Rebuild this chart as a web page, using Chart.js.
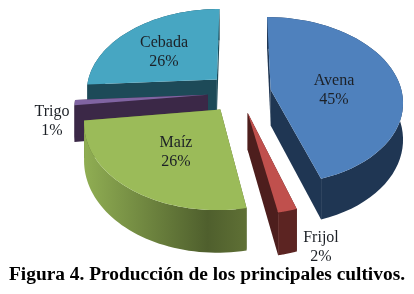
<!DOCTYPE html>
<html>
<head>
<meta charset="utf-8">
<script src="https://cdn.jsdelivr.net/npm/chart.js@4"></script>
<style>
  body { margin: 0; background: #fff; }
  canvas { display: block; }
</style>
</head>
<body>
<canvas id="grafico" width="414" height="294"></canvas>
<script>
// Datos
const cultivos = ["Avena", "Frijol", "Maíz", "Trigo", "Cebada"];
const porcentajes = [45, 2, 26, 1, 26];
const titulo = "Figura 4. Producción de los principales cultivos.";

const colores = ["#4f81bd", "#c0504d", "#9bbb59", "#8064a2", "#47a6c2"];
// tonos de la pared exterior: izquierda, centro, derecha
const paredes = [
    ["#1f3653", "#1f3653", "#1f3653"],
    ["#5c2422", "#5c2422", "#5c2422"],
    ["#90ae53", "#4f5f2d", "#5f7035"],
    ["#3b2847", "#3b2847", "#3b2847"],
    ["#1d4a58", "#1d4a58", "#1d4a58"]
];
const caras = ["#1f3653", "#4d1e1d", "#56662f", "#3b2847", "#1d4a58"];

// Vista 3D del plano de la torta
const corrimiento = 32.5;
const estiramiento = 1.585;
const perspectiva = 0.13;
const grosor = 36;

// Posicion de cada etiqueta en pantalla
const posEtiquetas = [[334, 90], [321, 247], [176, 152], [52, 121], [164, 52]];

function proyectar(el, x, y, h) {
    const s = 1 / (1 - perspectiva * y / el.outerRadius);
    return [el.x + corrimiento + estiramiento * x * s, el.y + (y + h) * s];
}

function trazar(ctx, puntos, relleno) {
    ctx.beginPath();
    puntos.forEach((p, i) => i ? ctx.lineTo(p[0], p[1]) : ctx.moveTo(p[0], p[1]));
    ctx.closePath();
    ctx.fillStyle = relleno;
    ctx.fill();
}

const torta3d = {
    id: "torta3d",
    beforeDatasetDraw(chart) {
        const ctx = chart.ctx;
        const arcos = chart.getDatasetMeta(0).data;

        // De atras hacia adelante
        const orden = arcos.map((a, i) => i).sort((i, j) => {
            const mitad = k => (arcos[k].startAngle + arcos[k].endAngle) / 2;
            return Math.sin(mitad(i)) - Math.sin(mitad(j));
        });

        orden.forEach(i => {
            const el = arcos[i];
            const mitad = (el.startAngle + el.endAngle) / 2;
            const ox = Math.cos(mitad) * el.options.offset;
            const oy = Math.sin(mitad) * el.options.offset;

            const arco = h => {
                const pts = [];
                for (let k = 0; k <= 48; k++) {
                    const a = el.startAngle + (el.endAngle - el.startAngle) * k / 48;
                    pts.push(proyectar(el, ox + el.outerRadius * Math.cos(a), oy + el.outerRadius * Math.sin(a), h));
                }
                return pts;
            };
            const arriba = arco(0);
            const abajo = arco(grosor);
            const centro = proyectar(el, ox, oy, 0);
            const centroAbajo = proyectar(el, ox, oy, grosor);

            // Caras del corte
            trazar(ctx, [centro, arriba[0], abajo[0], centroAbajo], caras[i]);
            trazar(ctx, [centro, arriba[48], abajo[48], centroAbajo], caras[i]);

            // Pared exterior
            const xs = arriba.map(p => p[0]);
            const degradado = ctx.createLinearGradient(Math.min(...xs), 0, Math.max(...xs), 0);
            degradado.addColorStop(0, paredes[i][0]);
            degradado.addColorStop(0.76, paredes[i][1]);
            degradado.addColorStop(1, paredes[i][2]);
            trazar(ctx, arriba.concat(abajo.slice().reverse()), degradado);

            // Cara superior
            trazar(ctx, [centro].concat(arriba), el.options.backgroundColor);
        });

        // Etiquetas
        ctx.font = "16px 'Liberation Serif'";
        ctx.textAlign = "center";
        ctx.textBaseline = "middle";
        ctx.fillStyle = "#1c2026";
        cultivos.forEach((nombre, i) => {
            const [x, y] = posEtiquetas[i];
            ctx.fillText(nombre, x, y - 9);
            ctx.fillText(porcentajes[i] + "%", x, y + 10);
        });
        return false;
    }
};

new Chart(document.getElementById("grafico"), {
    type: "pie",
    data: {
        labels: cultivos,
        datasets: [{
            data: porcentajes,
            backgroundColor: colores,
            borderWidth: 0,
            offset: 20
        }]
    },
    options: {
        responsive: false,
        animation: false,
        plugins: {
            legend: { display: false },
            tooltip: { enabled: false },
            title: {
                display: true,
                text: titulo,
                position: "bottom",
                color: "#000",
                font: { family: "'Liberation Serif'", size: 19.4, weight: "bold" },
                padding: { top: 78, bottom: 7 }
            }
        }
    },
    plugins: [torta3d]
});
</script>
</body>
</html>
